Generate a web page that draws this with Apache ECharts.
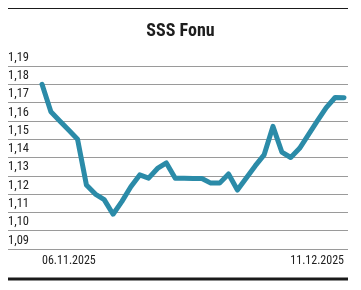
<!DOCTYPE html>
<html>
<head>
<meta charset="utf-8">
<script src="https://cdn.jsdelivr.net/npm/echarts@6/dist/echarts.min.js"></script>
<style>
html,body{margin:0;padding:0;background:#fff;}
#c{width:361px;height:290px;}
</style>
</head>
<body>
<div id="c"></div>
<script>
var titleText = 'SSS Fonu';
var dateLabels = ['06.11.2025', '11.12.2025'];
var yTicks = [1.09, 1.10, 1.11, 1.12, 1.13, 1.14, 1.15, 1.16, 1.17, 1.18, 1.19];
var values = [1.180, 1.165, 1.160, 1.155, 1.150, 1.125, 1.120, 1.117, 1.109, 1.116,
              1.124, 1.1305, 1.1287, 1.134, 1.137, 1.1287, 1.1287, 1.1285, 1.1285, 1.126,
              1.126, 1.131, 1.1222, 1.1288, 1.1354, 1.1414, 1.157, 1.143, 1.140, 1.145,
              1.1525, 1.160, 1.1673, 1.1728, 1.1727];

// pick the narrowest installed condensed family
function pickFont() {
  var cands = ['Liberation Sans Narrow', 'Roboto Condensed', 'DejaVu Sans Condensed'];
  var cv = document.createElement('canvas').getContext('2d');
  var probe = '06.11.2025 SSS Fonu abcdefg';
  cv.font = '20px monospace';
  var base = cv.measureText(probe).width;
  for (var i = 0; i < cands.length; i++) {
    cv.font = '20px "' + cands[i] + '", monospace';
    if (Math.abs(cv.measureText(probe).width - base) > 0.5) return '"' + cands[i] + '", sans-serif';
  }
  return 'sans-serif';
}
var FONT = pickFont();
var narrow = FONT.indexOf('Narrow') >= 0;
var labelSize = narrow ? 14 : 12.5;
var dateSize = narrow ? 13 : 12;
var titleSize = narrow ? 19 : 18;

var chart = echarts.init(document.getElementById('c'), null, {renderer: 'canvas'});
var lastIdx = values.length - 1;
var xMin = -3.83, xMax = 34.45;

function dateAxis(val, align, label) {
  return {
    type: 'value',
    position: 'bottom',
    min: xMin,
    max: xMax,
    axisLine: {show: false},
    axisTick: {show: false},
    splitLine: {show: false},
    axisLabel: {
      customValues: [val],
      align: align,
      margin: 6,
      fontFamily: FONT,
      fontSize: dateSize,
      color: '#222',
      formatter: function () { return label; }
    }
  };
}

chart.setOption({
  animation: false,
  backgroundColor: '#fff',
  title: {
    text: titleText,
    left: 'center',
    top: 17,
    textStyle: {fontFamily: FONT, fontSize: titleSize, fontWeight: 'bold', color: '#1e1e1e'}
  },
  graphic: [
    {type: 'line', shape: {x1: 8, y1: 8.5, x2: 348, y2: 8.5}, style: {stroke: '#1a1a1a', lineWidth: 1}},
    {type: 'rect', shape: {x: 8, y: 277.5, width: 340, height: 3}, style: {fill: '#1a1a1a'}}
  ],
  grid: {left: 8, right: 13, top: 66, bottom: 41},
  xAxis: [
    dateAxis(0, 'left', dateLabels[0]),
    dateAxis(lastIdx, 'right', dateLabels[1])
  ],
  yAxis: {
    type: 'value',
    min: yTicks[0],
    max: yTicks[yTicks.length - 1],
    interval: 0.01,
    axisLine: {show: false},
    axisTick: {show: false},
    splitLine: {show: true, lineStyle: {color: '#9a9a9a', width: 1}},
    axisLabel: {
      inside: true,
      margin: 0,
      verticalAlign: 'bottom',
      padding: [0, 0, 2, 0],
      fontFamily: FONT,
      fontSize: labelSize,
      color: '#222',
      formatter: function (v) { return v.toFixed(2).replace('.', ','); }
    }
  },
  series: [{
    type: 'line',
    xAxisIndex: 0,
    data: values.map(function (v, i) { return [i, v]; }),
    showSymbol: false,
    smooth: false,
    lineStyle: {color: '#2b8ba8', width: 5, cap: 'round', join: 'round'},
    itemStyle: {color: '#2b8ba8'}
  }]
});
</script>
</body>
</html>
